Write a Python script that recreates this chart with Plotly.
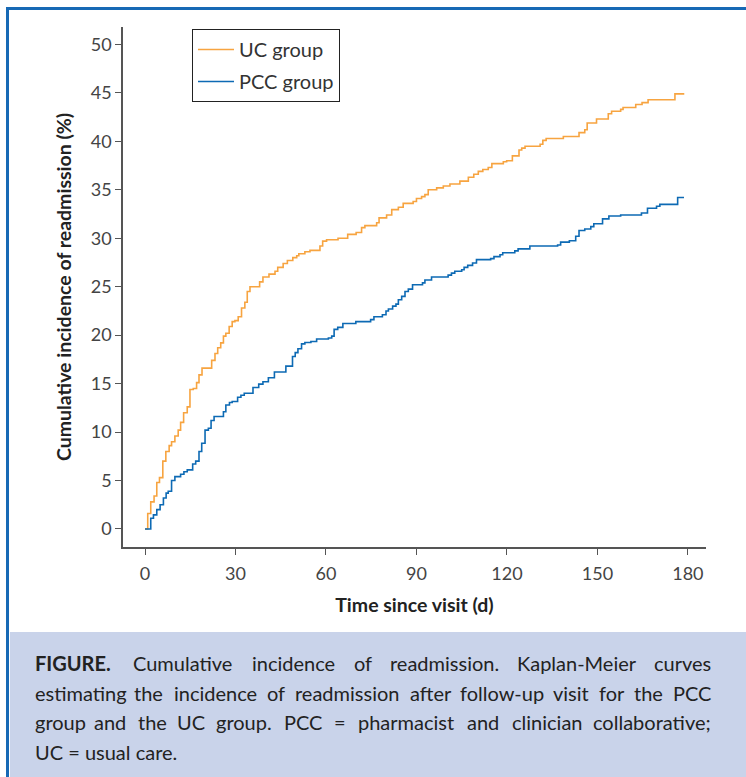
import plotly.graph_objects as go

# ---------------- data ----------------
uc_days = [0, 0.9, 1.9, 3, 3.9, 4.8, 5.9, 6.9, 8, 8.8, 9.9, 11, 11.8, 12.8, 14, 14.9, 16, 17.1, 17.9, 18.9,
           22.1, 23.2, 24.1, 25.1, 26, 26.8, 27.9, 28.9, 29.8, 30.9, 32, 33.1, 33.9, 34.8, 38, 39.1, 41.1,
           43.1, 44, 45.8, 47.2, 49, 50.3, 51, 53, 54.7, 58, 58.9, 60.2, 64, 67.2, 70, 71.8, 72.9, 76.8,
           77.6, 80.1, 81.8, 84, 85.6, 88.9, 90, 91.7, 92.8, 93.9, 96.7, 98.9, 101.1, 104.4, 107.2, 109,
           110.5, 112, 113.8, 115, 118.8, 119.9, 121.8, 124, 124.9, 126, 131, 131.9, 133, 138.7, 143.9,
           145.8, 146.6, 149.7, 153.6, 154.7, 157.7, 158.5, 162.7, 164.8, 166.8, 175.7, 178.8]
uc_pct = [0, 1.6, 2.8, 3.4, 4.8, 5.3, 7.0, 8.0, 8.6, 9.0, 9.6, 10.2, 11.0, 12.0, 12.6, 14.4, 14.5, 15.1, 15.9,
          16.6, 17.4, 18.1, 18.7, 19.2, 19.9, 20.2, 20.9, 21.4, 21.5, 21.9, 22.8, 23.4, 24.5, 25.0, 25.5,
          26.0, 26.3, 26.6, 27.0, 27.4, 27.7, 28.0, 28.2, 28.4, 28.6, 28.75, 29.2, 29.7, 29.85, 30.0, 30.4,
          30.6, 31.1, 31.3, 31.6, 32.1, 32.4, 32.95, 33.2, 33.6, 33.8, 34.1, 34.3, 34.5, 35.0, 35.2, 35.4,
          35.6, 35.9, 36.3, 36.6, 36.9, 37.1, 37.3, 37.7, 37.9, 38.0, 38.5, 39.1, 39.3, 39.5, 39.7, 40.1,
          40.3, 40.5, 40.9, 41.2, 41.9, 42.3, 42.85, 43.1, 43.3, 43.5, 43.8, 44.0, 44.3, 44.9, 44.9]

pcc_days = [0, 1.9, 2.8, 3.9, 5, 6.1, 7, 7.7, 8.8, 9.9, 11.8, 12.9, 14, 15.8, 16.8, 17.9, 18.8, 19.9, 21,
            21.9, 22.9, 26, 26.8, 28, 28.9, 30.7, 31.8, 32.9, 35.8, 37.7, 39.1, 40.9, 42.9, 46.7, 48.9,
            49.8, 50.7, 51.9, 53, 55, 56.9, 60.8, 61.9, 62.7, 63.9, 65.6, 69.9, 74.8, 75.9, 78.7, 79.9,
            80.7, 82.1, 83.2, 84, 85.1, 86.2, 87.3, 88.7, 92, 92.8, 95, 100.5, 101.6, 102.7, 105, 105.8,
            107, 108.6, 109.9, 114.6, 115.7, 117.7, 118.6, 122.6, 123.7, 127.6, 136.8, 137.8, 140.7,
            142.8, 143.9, 145.8, 147.8, 148.8, 151.7, 153.8, 157.7, 164.6, 166.6, 169.6, 170.7, 176.6, 178.7]
pcc_pct = [0, 1.1, 1.45, 2.0, 2.5, 3.2, 3.7, 3.9, 5.0, 5.4, 5.65, 5.9, 6.1, 6.7, 7.0, 8.0, 8.85, 10.2, 10.4,
           11.2, 11.6, 12.1, 12.8, 13.05, 13.15, 13.6, 13.8, 14.0, 14.6, 14.95, 15.2, 15.6, 16.2, 16.8,
           17.8, 18.2, 18.6, 19.1, 19.25, 19.35, 19.6, 19.7, 19.9, 20.6, 20.8, 21.2, 21.4, 21.6, 21.9,
           22.1, 22.5, 22.7, 23.0, 23.2, 23.65, 24.0, 24.5, 24.75, 25.2, 25.4, 25.7, 26.0, 26.2, 26.4,
           26.6, 26.75, 27.0, 27.2, 27.45, 27.8, 27.9, 28.1, 28.3, 28.5, 28.7, 28.9, 29.2, 29.3, 29.6,
           29.75, 30.2, 30.8, 30.96, 31.2, 31.5, 32.0, 32.3, 32.4, 32.6, 33.1, 33.3, 33.5, 34.2, 34.2]

series_names = ["UC group", "PCC group"]
x_ticks = [0, 30, 60, 90, 120, 150, 180]
x_tick_labels = ["0", "30", "60", "90", "120", "150", "180"]
y_ticks = [0, 5, 10, 15, 20, 25, 30, 35, 40, 45, 50]

caption_lines = [
    "FIGURE. Cumulative incidence of readmission. Kaplan-Meier curves",
    "estimating the incidence of readmission after follow-up visit for the PCC",
    "group and the UC group. PCC = pharmacist and clinician collaborative;",
    "UC = usual care.",
]

# ---------------- styling ----------------
UC_COLOR = "#F7A440"
PCC_COLOR = "#0D6AB4"
FRAME_BLUE = "#1769B5"
CAPTION_BG = "#C9D3EA"
FONT = "Lato"

W, H = 746, 777
ML, MR, MT, MB = 123, 40, 27, 230
PW, PH = W - ML - MR, H - MT - MB


def xp(px):
    return (px - ML) / PW


def yp(py):
    return (H - MB - py) / PH


fig = go.Figure()
fig.add_trace(go.Scatter(x=uc_days, y=uc_pct, mode="lines", name=series_names[0],
                         line=dict(color=UC_COLOR, width=1.6, shape="hv"), legendgroup="a"))
fig.add_trace(go.Scatter(x=pcc_days, y=pcc_pct, mode="lines", name=series_names[1],
                         line=dict(color=PCC_COLOR, width=1.6, shape="hv"), legendgroup="b"))

axis_common = dict(showline=True, linecolor="#555555", linewidth=1.5, ticks="outside",
                   ticklen=6, tickwidth=1.2, tickcolor="#555555", showgrid=False, zeroline=False,
                   tickfont=dict(family=FONT, size=18, color="#444444"))

fig.update_xaxes(range=[-7.3, 186], tickvals=x_ticks, ticktext=x_tick_labels,
                 ticklabelstandoff=4,
                 title=dict(text="<b>Time since visit (d)</b>", standoff=15,
                            font=dict(family=FONT, size=19.5, color="#222222")),
                 **axis_common)
fig.update_yaxes(range=[-1.86, 51.8], tickvals=y_ticks,
                 title=dict(text="<b>Cumulative incidence of readmission (%)</b>", standoff=14,
                            font=dict(family=FONT, size=19.5, color="#222222")),
                 **axis_common)

# frame and caption box
shapes = [
    dict(type="rect", xref="paper", yref="paper", x0=xp(10), x1=xp(W + 5), y0=yp(632), y1=yp(H + 5),
         fillcolor=CAPTION_BG, line=dict(width=0), layer="below"),
    dict(type="line", xref="paper", yref="paper", x0=xp(7.5), x1=xp(7.5), y0=yp(7), y1=yp(H + 5),
         line=dict(color=FRAME_BLUE, width=3)),
    dict(type="line", xref="paper", yref="paper", x0=xp(6), x1=xp(W + 5), y0=yp(8.5), y1=yp(8.5),
         line=dict(color=FRAME_BLUE, width=3)),
]

# justified caption
widths = {}
for ch in "abcdeghknopquvxyz":
    widths[ch] = 0.53
widths.update({"i": 0.24, "l": 0.24, "j": 0.24, "f": 0.32, "r": 0.36, "t": 0.34, "s": 0.42,
               "m": 0.84, "w": 0.76, ".": 0.23, ",": 0.23, ";": 0.25, "-": 0.34, "=": 0.58,
               "M": 0.85, "I": 0.29, "(": 0.3, ")": 0.3, " ": 0.25})


def em_w(word, bold=False):
    tot = 0
    for ch in word:
        if ch in widths:
            tot += widths[ch]
        elif ch.isupper():
            tot += 0.66
        else:
            tot += 0.53
    return tot * (1.05 if bold else 1.0)


X0, X1 = 33, 713
max_em = max(em_w(t) for t in caption_lines[:-1])
CAP_SIZE = min(20.0, (X1 - X0 - 8) / max_em)

annotations = []
line_y = [663, 693, 722, 752]
for li, text in enumerate(caption_lines):
    words = text.split(" ")
    if li == len(caption_lines) - 1:
        annotations.append(dict(text=text, x=xp(X0), y=yp(line_y[li]), xref="paper", yref="paper",
                                xanchor="left", yanchor="middle", showarrow=False,
                                font=dict(family=FONT, size=CAP_SIZE, color="#222222")))
        continue
    bolds = [(li == 0 and wi == 0) for wi in range(len(words))]
    ws = [em_w(w, b) * CAP_SIZE for w, b in zip(words, bolds)]
    gap = (X1 - X0 - sum(ws)) / (len(words) - 1)
    cur = X0
    for wi, (w, b, ww) in enumerate(zip(words, bolds, ws)):
        if wi == 0:
            x, anchor = cur, "left"
        elif wi == len(words) - 1:
            x, anchor = X1, "right"
        else:
            x, anchor = cur + ww / 2, "center"
        annotations.append(dict(text=f"<b>{w}</b>" if b else w, x=xp(x), y=yp(line_y[li]),
                                xref="paper", yref="paper", xanchor=anchor, yanchor="middle",
                                showarrow=False,
                                font=dict(family=FONT, size=CAP_SIZE, color="#222222")))
        cur += ww + gap

fig.update_layout(
    width=W, height=H,
    margin=dict(l=ML, r=MR, t=MT, b=MB),
    paper_bgcolor="white", plot_bgcolor="white",
    shapes=shapes, annotations=annotations,
    legend=dict(x=xp(192), y=yp(29), xanchor="left", yanchor="top", bgcolor="white",
                bordercolor="#222222", borderwidth=1, tracegroupgap=3, itemwidth=36,
                font=dict(family=FONT, size=20, color="#333333")),
    showlegend=True,
)

fig.write_html("out.html", config={"displayModeBar": False},
               post_script="document.body.style.margin='0px';document.body.style.padding='0px';")
